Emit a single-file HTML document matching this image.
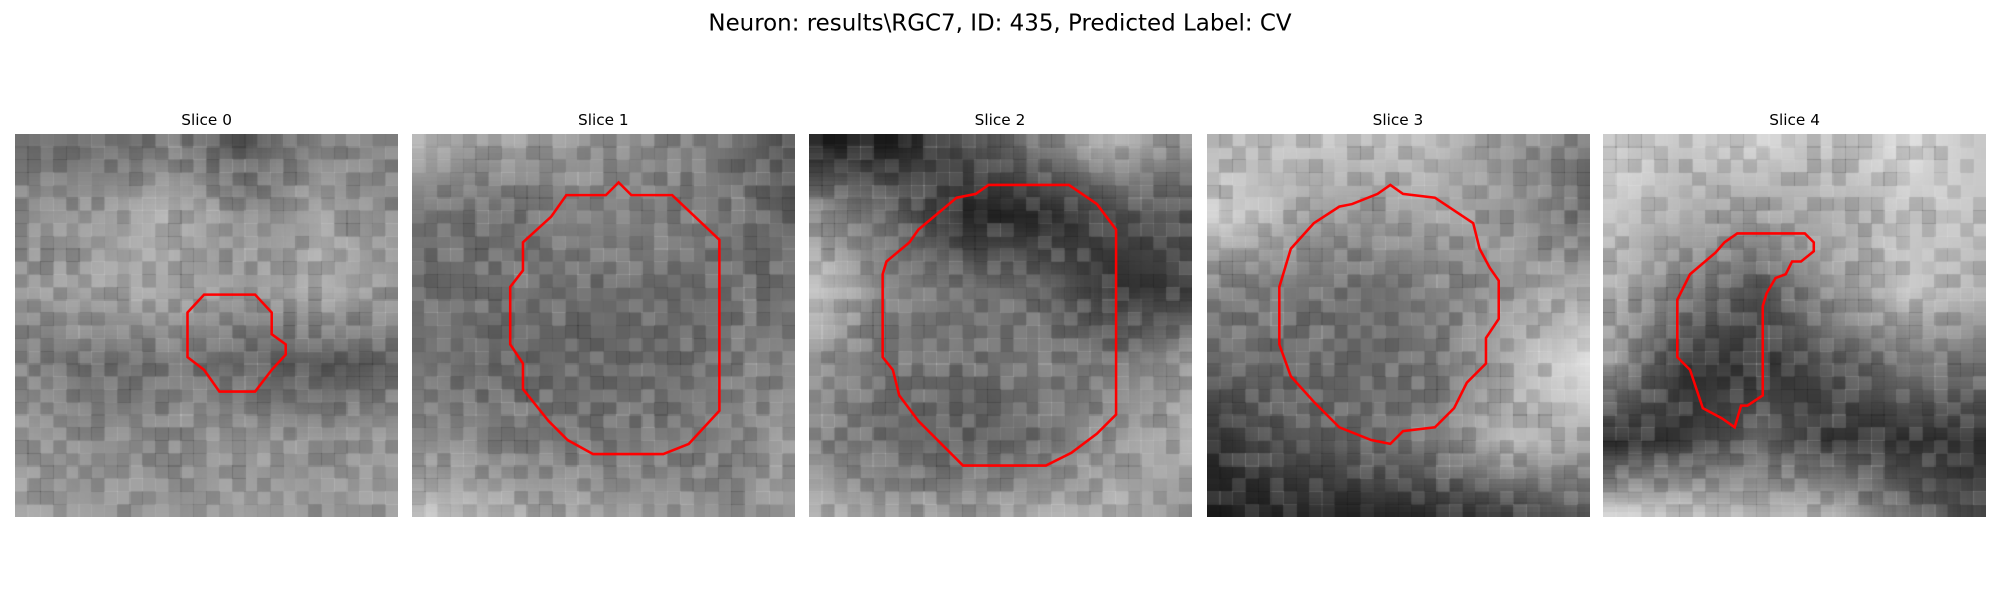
<!DOCTYPE html>
<html><head><meta charset="utf-8"><style>
html,body{margin:0;padding:0;background:#fff;}
#wrap{position:relative;width:2000px;height:600px;overflow:hidden;font-family:"DejaVu Sans","Liberation Sans",sans-serif;}
canvas{position:absolute;}
svg{position:absolute;left:0;top:0;}
</style></head><body>
<div id="wrap">
<svg id="ov" width="2000" height="600" viewBox="0 0 1568 470.4" preserveAspectRatio="none">
<text x="784" y="24" text-anchor="middle" font-size="18" fill="#000">Neuron: results\RGC7, ID: 435, Predicted Label: CV</text>
</svg>
</div>
<script>
const sliceTitles=["Slice 0","Slice 1","Slice 2","Slice 3","Slice 4"];
const panelX=[12,323,634,946,1257];
const panelY=105, panelSize=300;
const gray0=[[120,110,120,90,130,130],[140,150,170,140,160,140],[150,160,165,150,170,150],[130,110,120,100,90,110],[150,140,140,150,140,150],[160,150,150,160,150,150]];
const gray1=[[170,160,150,140,120,80],[120,110,130,130,120,100],[110,120,110,110,110,120],[120,100,110,110,120,130],[140,130,120,120,130,150],[190,170,160,150,140,150]];
const gray2=[[40,40,80,130,170,150],[150,110,50,50,80,90],[190,130,120,110,60,70],[140,120,110,120,120,150],[130,110,100,110,150,170],[170,150,150,160,170,150]];
const gray3=[[180,190,190,180,150,130],[200,170,150,160,150,110],[130,120,110,130,150,170],[110,110,110,120,170,210],[60,90,110,130,180,170],[40,50,50,60,70,100]];
const gray4=[[210,190,200,190,210,190],[190,170,160,170,190,190],[170,130,90,150,190,170],[150,60,60,90,120,120],[50,70,100,60,60,60],[200,190,180,170,110,70]];
const grays=[gray0,gray1,gray2,gray3,gray4];
const contour0=[[147,245],[160,231],[200,231],[213,245],[213,262],[224,270],[224,278],[213,290],[200,307],[172,307],[160,290],[147,280]];
const contour1=[[432,170],[444,153],[475,153],[485,143],[495,153],[527,153],[564,188],[564,322],[540,348],[520,356],[465,356],[445,345],[430,330],[410,305],[410,285],[400,270],[400,225],[410,212],[410,190]];
const contour2=[[695,205],[713,190],[720,180],[750,155],[765,152],[775,145],[838,145],[860,160],[875,180],[875,325],[860,340],[840,355],[820,365],[755,365],[720,330],[705,310],[700,290],[692,280],[692,215]];
const contour3=[[1012,195],[1030,175],[1050,162],[1060,160],[1080,152],[1090,145],[1100,152],[1125,155],[1140,165],[1155,175],[1160,195],[1168,210],[1175,220],[1175,250],[1165,265],[1165,285],[1150,300],[1140,320],[1125,335],[1100,338],[1090,348],[1075,345],[1050,335],[1030,315],[1012,295],[1003,270],[1003,225]];
const contour4=[[1315,235],[1325,215],[1345,198],[1352,190],[1362,183],[1415,183],[1422,190],[1422,197],[1412,205],[1405,205],[1400,215],[1392,218],[1385,230],[1382,240],[1382,310],[1370,318],[1365,318],[1360,335],[1350,328],[1335,320],[1330,305],[1325,290],[1315,280]];
const contours=[contour0,contour1,contour2,contour3,contour4];

const S=2000/1568;
const wrap=document.getElementById('wrap');
const ov=document.getElementById('ov');
const NS='http://www.w3.org/2000/svg';
function hash(a,b,c){let h=(a*374761393+b*668265263+c*2147483647)|0;h=(h^(h>>>13))*1274126177|0;h=h^(h>>>16);return ((h>>>0)%1000)/1000;}
for(let i=0;i<5;i++){
  const g=grays[i];
  const small=document.createElement('canvas');small.width=6;small.height=6;
  const sc=small.getContext('2d');
  for(let r=0;r<6;r++)for(let c=0;c<6;c++){const v=Math.max(0,Math.min(255,Math.round((g[r][c]-128)*1.15+128)));sc.fillStyle=`rgb(${v},${v},${v})`;sc.fillRect(c,r,1,1);}
  const cv=document.createElement('canvas');
  
  
  const px=Math.round(panelX[i]*S), py=Math.round(panelY*S), sz=Math.round(panelSize*S);
  cv.width=sz;cv.height=sz;cv.style.left=px+'px';cv.style.top=py+'px';
  const ctx=cv.getContext('2d');ctx.imageSmoothingEnabled=true;
  const pad=sz/12;
  ctx.drawImage(small,-pad,-pad,sz+2*pad,sz+2*pad);
  const cell=sz/30;
  for(let r=0;r<30;r++)for(let c=0;c<30;c++){
    const d=(hash(r+1,c+7,i+3)-0.5)*80;
    ctx.fillStyle=d>0?`rgba(255,255,255,${d/255})`:`rgba(0,0,0,${-d/255})`;
    ctx.fillRect(Math.floor(c*cell),Math.floor(r*cell),Math.ceil(cell)+1,Math.ceil(cell)+1);
  }
  wrap.insertBefore(cv,ov);
  const t=document.createElementNS(NS,'text');
  
  
  t.setAttribute('x',panelX[i]+panelSize/2);t.setAttribute('y',98);
  t.setAttribute('text-anchor','middle');t.setAttribute('font-size','12');
  t.textContent=sliceTitles[i];ov.appendChild(t);
  const p=document.createElementNS(NS,'polygon');
  
  
  p.setAttribute('points',contours[i].map(q=>q.join(',')).join(' '));
  p.setAttribute('fill','none');p.setAttribute('stroke','#ff0000');p.setAttribute('stroke-width','2');
  ov.appendChild(p);
}
</script>
</body></html>
